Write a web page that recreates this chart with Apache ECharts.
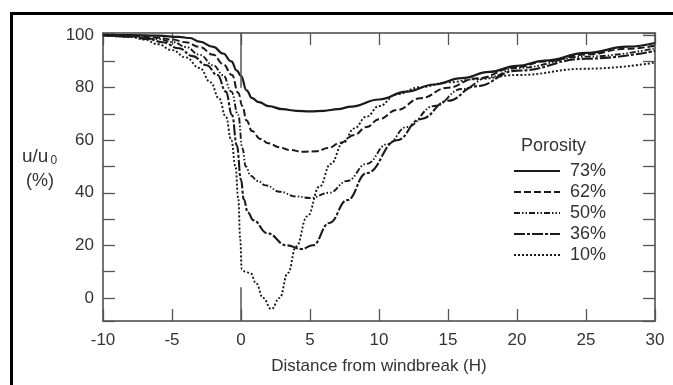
<!DOCTYPE html>
<html>
<head>
<meta charset="utf-8">
<script src="https://cdn.jsdelivr.net/npm/echarts@6/dist/echarts.min.js"></script>
<style>
html,body{margin:0;padding:0;background:#fff;}
#chart{width:673px;height:385px;}
</style>
</head>
<body>
<div id="chart"></div>
<script>
// Porosity categories
const porosityNames = ['73%', '62%', '50%', '36%', '10%'];

// Distance from windbreak (H) and u/u0 (%) for each porosity
const x73 = [-10,-8,-6,-4.5,-3.7,-3,-2,-1.3,-0.7,-0.3,0,0.4,0.8,1.3,2,3,4,5,6,7,8,10,12,14,16,18,20,22,25,28,30];
const y73 = [100,100,99.8,99.3,98.9,97.5,95.5,93,90,86.5,84.5,79,76,74.5,73,71.8,71.2,71,71.2,71.8,72.8,75.5,78.5,81.2,83.6,86,88.3,90.3,93.2,95.6,97];

const x62 = [-10,-8,-6,-5,-4,-3,-2,-1.3,-0.65,-0.2,0.1,0.4,0.8,1.4,2,2.8,3.5,4.5,5.5,6.3,7.2,8.2,9.1,10,11.3,13,15,17,20,22,25,28,30];
const y62 = [100,99.8,99,98.3,97.3,95.5,92.5,89,84.8,78,73,67.5,63.5,60.5,58.8,57.3,56.3,55.6,55.8,57,59,62,65,68,71.5,76,80,83.5,87.8,90,92.6,94.8,96];

const x50 = [-10,-8,-6,-4.9,-4,-3,-2,-1.3,-0.7,-0.2,0.1,0.35,0.7,1.2,1.8,2.8,4,5,6.4,7.7,9.1,10.6,12,14,16,18,20,25,30];
const y50 = [100,99.6,98.5,97.3,95.5,92.5,88.5,84.8,78.5,69.6,57,50,46.5,44.5,42.8,40.4,38.6,38,40,44.5,51,58.5,65,73,79.5,84,87.5,91.8,95];

const x36 = [-10,-8,-6.7,-5.7,-4.5,-3.5,-2.5,-1.7,-1.1,-0.65,-0.3,0,0.2,0.5,0.9,1.9,3.3,4.4,5.2,6.4,7.7,9.1,11.3,13,15,17,20,25,30];
const y36 = [100,99.4,98.5,97.3,95,92,88.5,84.8,78.5,69.6,58,45,37.5,32.5,29.5,24.6,20,18.6,20,28.5,37.2,47.5,60,68,75,80.5,86.5,91,94];

const x10 = [-10,-8,-7,-6,-5,-4,-3,-2.2,-1.6,-1.1,-0.7,-0.4,-0.2,-0.05,0.05,0.3,0.7,1.1,1.6,2.2,2.8,3.4,4,4.8,5.7,6.5,7.4,8.2,9.1,10,11.3,13,15,17,20,25,30];
const y10 = [100,99.3,98.3,96.5,94.3,91.5,87.5,82,76,69,60,50,38,22,11,10,9.3,5.5,0,-4.3,0,9.5,19.6,31,42.4,51,59,64.5,69,73,77.5,80.2,82,83.2,84.8,87.2,89.5];

// Axis tick labels
const xTicks = [-10,-5,0,5,10,15,20,25,30];
const yTickLabels = [0,20,40,60,80,100];

const xs = [x73, x62, x50, x36, x10];
const ys = [y73, y62, y50, y36, y10];
const dashes = ['solid', [7,3], [6,2,1.5,2,1.5,2], [11,2,3,2], [2,2]];
const widths = [2.2, 2, 1.9, 2.1, 1.9];

const ink = '#1a1a1a';
const textCol = '#333';
const font = 'Liberation Sans, Arial, sans-serif';

const series = porosityNames.map((name, i) => ({
  name: name,
  type: 'line',
  xAxisIndex: 0,
  yAxisIndex: 0,
  data: xs[i].map((x, k) => [x, ys[i][k]]),
  smooth: 0.45,
  smoothMonotone: 'x',
  showSymbol: false,
  symbol: 'none',
  color: ink,
  lineStyle: { color: ink, width: widths[i], type: dashes[i] },
  z: 3
}));

// windbreak marks at x = 0 (upper and lower segments)
series[0].markLine = {
  silent: true,
  symbol: 'none',
  label: { show: false },
  lineStyle: { color: '#555', width: 1.5, type: 'solid' },
  data: [
    [{ coord: [0, 100.8] }, { coord: [0, 80] }],
    [{ coord: [0, -8.8] }, { coord: [0, 4] }]
  ]
};

const axisLineStyle = { show: true, onZero: false, lineStyle: { color: '#444', width: 1.5 } };
const tickStyle = { show: true, inside: true, length: 12, lineStyle: { color: '#555', width: 1.3 } };

const chart = echarts.init(document.getElementById('chart'), null, { renderer: 'canvas' });
chart.setOption({
  animation: false,
  backgroundColor: '#fff',
  grid: { left: 103, right: 18, top: 33, bottom: 64, containLabel: false },
  title: {
    text: 'Porosity',
    left: 521,
    top: 137,
    padding: 0,
    textStyle: { fontFamily: font, fontSize: 18, fontWeight: 'normal', color: textCol }
  },
  legend: {
    data: porosityNames,
    orient: 'vertical',
    left: 513,
    top: 162,
    padding: 0,
    itemWidth: 46,
    itemHeight: 20,
    itemGap: 3,
    itemStyle: { opacity: 0 },
    textStyle: { fontFamily: font, fontSize: 18, color: textCol, padding: [0, 0, 0, 5] },
    selectedMode: false
  },
  xAxis: [{
    type: 'value',
    min: -10, max: 30, interval: 5,
    position: 'bottom',
    axisLine: axisLineStyle,
    axisTick: tickStyle,
    axisLabel: {
      margin: 11, fontFamily: font, fontSize: 17, color: textCol,
      formatter: v => (xTicks.indexOf(v) >= 0 ? String(v) : '')
    },
    splitLine: { show: false },
    name: 'Distance from windbreak (H)',
    nameLocation: 'middle',
    nameGap: 37,
    nameTextStyle: { fontFamily: font, fontSize: 17, color: textCol }
  }, {
    type: 'value',
    min: -10, max: 30, interval: 5,
    position: 'top',
    axisLine: axisLineStyle,
    axisTick: tickStyle,
    axisLabel: { show: false },
    splitLine: { show: false }
  }],
  yAxis: [{
    type: 'value',
    min: -8.8, max: 100.8,
    splitNumber: 11,
    position: 'left',
    axisLine: axisLineStyle,
    axisTick: tickStyle,
    axisLabel: {
      margin: 9, fontFamily: font, fontSize: 17, color: textCol,
      formatter: v => (yTickLabels.indexOf(v) >= 0 ? String(v) : '')
    },
    splitLine: { show: false }
  }, {
    type: 'value',
    min: -8.8, max: 100.8,
    splitNumber: 11,
    position: 'right',
    axisLine: axisLineStyle,
    axisTick: tickStyle,
    axisLabel: { show: false },
    splitLine: { show: false }
  }],
  graphic: [
    {
      type: 'rect',
      shape: { x: 11.5, y: 13.5, width: 700, height: 400 },
      style: { fill: 'none', stroke: '#000', lineWidth: 3 },
      silent: true,
      z: 100
    },
    {
      type: 'text',
      left: 22,
      top: 147,
      style: {
        text: '{a|u/u}{s|0}',
        rich: {
          a: { fontFamily: font, fontSize: 19, fill: textCol },
          s: { fontFamily: font, fontSize: 12, fill: textCol, verticalAlign: 'bottom', padding: [8, 0, 0, 2] }
        }
      }
    },
    {
      type: 'text',
      left: 26,
      top: 172,
      style: { text: '(%)', fontFamily: font, fontSize: 18, fill: textCol }
    }
  ],
  series: series
});
</script>
</body>
</html>
